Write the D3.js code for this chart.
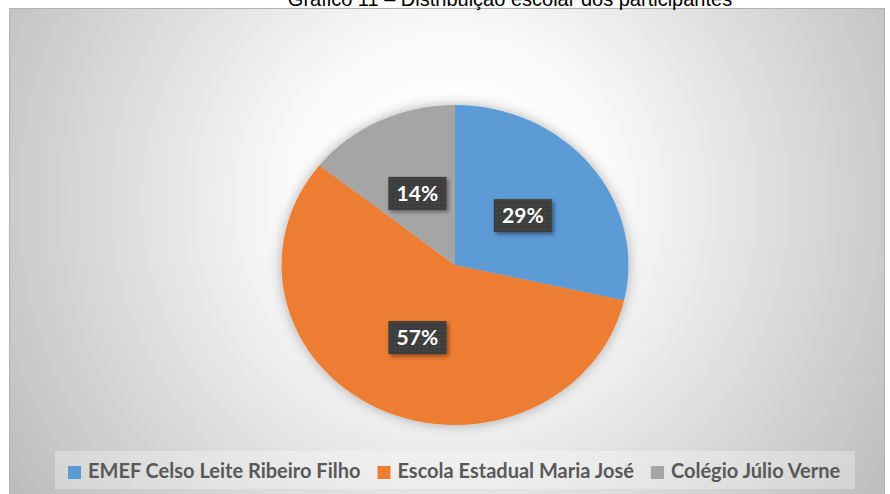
<!DOCTYPE html>
<html>
<head>
<meta charset="utf-8">
<title>Gráfico 11</title>
<script src="https://cdn.jsdelivr.net/npm/d3@7"></script>
<style>
  body { margin: 0; background: #fff; }
  svg { display: block; }
</style>
</head>
<body>
<script>
// data
const schools = ["EMEF Celso Leite Ribeiro Filho", "Escola Estadual Maria José", "Colégio Júlio Verne"];
const counts = [2, 4, 1];
const colors = ["#5b9bd5", "#ed7d31", "#a5a5a5"];
const title = "Gráfico 11 – Distribuição escolar dos participantes";

const w = 890, h = 494;
const cx = 455, cy = 265, r = 160, sx = 1.084;

const svg = d3.select("body").append("svg")
  .attr("width", w)
  .attr("height", h);

const defs = svg.append("defs");

const bg = defs.append("radialGradient")
  .attr("id", "bg")
  .attr("gradientUnits", "userSpaceOnUse")
  .attr("cx", 450).attr("cy", 200).attr("r", 520);
bg.append("stop").attr("offset", 0).attr("stop-color", "#ffffff");
bg.append("stop").attr("offset", 0.3).attr("stop-color", "#fbfbfb");
bg.append("stop").attr("offset", 1).attr("stop-color", "#bdbdbd");

const shadow = defs.append("filter").attr("id", "shadow")
  .attr("x", "-20%").attr("y", "-20%").attr("width", "140%").attr("height", "140%");
shadow.append("feDropShadow")
  .attr("dx", 0).attr("dy", 0).attr("stdDeviation", 6)
  .attr("flood-color", "#000").attr("flood-opacity", 0.3);

const boxShadow = defs.append("filter").attr("id", "boxshadow")
  .attr("x", "-30%").attr("y", "-30%").attr("width", "160%").attr("height", "160%");
boxShadow.append("feDropShadow")
  .attr("dx", 2).attr("dy", 2).attr("stdDeviation", 2)
  .attr("flood-color", "#000").attr("flood-opacity", 0.45);

const dots = defs.append("pattern").attr("id", "dots")
  .attr("patternUnits", "userSpaceOnUse").attr("width", 4).attr("height", 4);
dots.append("rect").attr("width", 4).attr("height", 4).attr("fill", "#3d3d3d");
dots.append("circle").attr("cx", 2).attr("cy", 2).attr("r", 0.7).attr("fill", "#555");

// chart area
svg.append("rect")
  .attr("x", 9.5).attr("y", 8.5)
  .attr("width", 875).attr("height", 490)
  .attr("fill", "url(#bg)")
  .attr("stroke", "#b3b3b3");

// title (cut off at the top like the original)
svg.append("text")
  .attr("x", 510).attr("y", 6)
  .attr("text-anchor", "middle")
  .attr("font-family", "Liberation Sans, Arial, sans-serif")
  .attr("font-size", 20)
  .attr("fill", "#000")
  .text(title);

const pie = d3.pie().sort(null).value(d => d);
const arcs = pie(counts);
const arc = d3.arc().innerRadius(0).outerRadius(r);
const total = d3.sum(counts);

const g = svg.append("g")
  .attr("transform", `translate(${cx},${cy}) scale(${sx},1)`)
  .attr("filter", "url(#shadow)");

g.selectAll("path")
  .data(arcs)
  .join("path")
  .attr("d", arc)
  .attr("fill", (d, i) => colors[i]);

// data labels
const labels = svg.selectAll("g.lbl")
  .data(arcs)
  .join("g")
  .attr("class", "lbl")
  .attr("transform", d => {
    const c = arc.centroid(d);
    return `translate(${cx + c[0] * sx},${cy + c[1]})`;
  });

labels.append("rect")
  .attr("x", -29).attr("y", -16)
  .attr("width", 58).attr("height", 33)
  .attr("fill", "url(#dots)")
  .attr("filter", "url(#boxshadow)");

labels.append("text")
  .attr("text-anchor", "middle")
  .attr("y", 8)
  .attr("font-family", "Lato, sans-serif")
  .attr("font-weight", "bold")
  .attr("font-size", 21)
  .attr("fill", "#fff")
  .text(d => Math.round(d.data / total * 100) + "%");

// legend
svg.append("rect")
  .attr("x", 55).attr("y", 451)
  .attr("width", 800).attr("height", 38)
  .attr("fill", "#ffffff").attr("fill-opacity", 0.3);

const leg = svg.append("g");
let lx = 68;
schools.forEach((s, i) => {
  leg.append("rect")
    .attr("x", lx).attr("y", 466)
    .attr("width", 13).attr("height", 13)
    .attr("fill", colors[i]);
  const t = leg.append("text")
    .attr("x", lx + 20).attr("y", 478)
    .attr("font-family", "Lato, sans-serif")
    .attr("font-weight", "bold")
    .attr("font-size", 20)
    .attr("fill", "#595959")
    .text(s);
  lx += 20 + t.node().getComputedTextLength() + 17;
});
</script>
</body>
</html>
